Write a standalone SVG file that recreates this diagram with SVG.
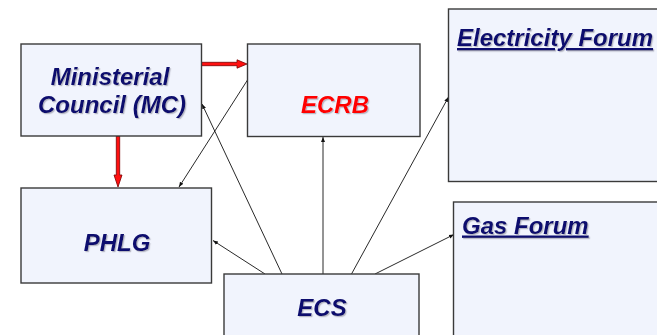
<svg xmlns="http://www.w3.org/2000/svg" width="657" height="335" viewBox="0 0 657 335">
<style>
.box{fill:#f1f4fd;stroke:#3a3a3a;stroke-width:1.4}
.t{font-family:"Liberation Sans",Arial,sans-serif;font-weight:bold;font-style:italic;font-size:24px;fill:#0b0b6e;filter:url(#sh)}
.u{text-decoration:underline;text-decoration-thickness:2px}
.c{stroke:#111;stroke-width:0.9;fill:none;marker-end:url(#ah)}
.ra{fill:#ff1010;stroke:#7a0000;stroke-width:0.8}
</style>
<defs>
<filter id="sh" x="-10%" y="-20%" width="130%" height="150%">
<feDropShadow dx="1.2" dy="1.2" stdDeviation="0.4" flood-color="#9090a0" flood-opacity="0.6"/>
</filter>
<marker id="ah" viewBox="0 0 10 10" refX="10" refY="5" markerWidth="5" markerHeight="5" orient="auto" markerUnits="userSpaceOnUse">
<path d="M0,1 L10,5 L0,9 z" fill="#111"/>
</marker>
</defs>
<rect width="657" height="335" fill="#ffffff"/>
<g id="connectors">
<polygon class="ra" points="201,62.3 237,62.3 237,59.8 247,64 237,68.2 237,65.7 201,65.7"/>
<polygon class="ra" points="116.3,136 119.7,136 119.7,175 122,175 118,187 114,175 116.3,175"/>
<line class="c" x1="247.5" y1="80" x2="179" y2="187"/>
<line class="c" x1="282" y1="274" x2="202" y2="104"/>
<line class="c" x1="265" y1="274" x2="213" y2="240.5"/>
<line class="c" x1="323" y1="274" x2="323" y2="137"/>
<line class="c" x1="351.5" y1="274" x2="448.5" y2="97"/>
<line class="c" x1="375" y1="274" x2="454" y2="234.5"/>
</g>
<g id="mc">
<rect class="box" x="21" y="44" width="180.5" height="92"/>
<text class="t" x="110" y="85" text-anchor="middle">Ministerial</text>
<text class="t" x="112" y="113" text-anchor="middle">Council (MC)</text>
</g>
<g id="ecrb">
<rect class="box" x="247.5" y="44" width="172.5" height="92.5"/>
<text class="t" x="335" y="113" text-anchor="middle" style="fill:#ff0000">ECRB</text>
</g>
<g id="phlg">
<rect class="box" x="21" y="188" width="190.5" height="95"/>
<text class="t" x="117" y="251" text-anchor="middle">PHLG</text>
</g>
<g id="ecs">
<rect class="box" x="224" y="274" width="195" height="70"/>
<text class="t" x="322" y="316" text-anchor="middle">ECS</text>
</g>
<g id="electricity-forum">
<rect class="box" x="448.5" y="9" width="215" height="172.5"/>
<text class="t u" x="457" y="46">Electricity Forum</text>
</g>
<g id="gas-forum">
<rect class="box" x="453.5" y="202" width="210" height="140"/>
<text class="t u" x="462" y="233.5">Gas Forum</text>
</g>
</svg>
